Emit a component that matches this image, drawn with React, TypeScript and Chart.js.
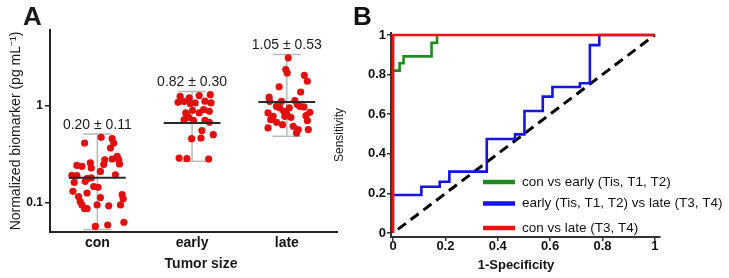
import React, { useEffect, useRef } from "react";
import { Chart, registerables } from "chart.js";

Chart.register(...registerables);

const FONT = "'Liberation Sans', Arial, Helvetica, sans-serif";

// ---------- Panel A data ----------
const categories = ["con", "early", "late"];

const conValues = [0.471, 0.412, 0.457, 0.412, 0.366, 0.3, 0.277, 0.282, 0.277, 0.251, 0.243, 0.237, 0.257, 0.228, 0.247, 0.191, 0.19, 0.177, 0.18, 0.21, 0.194, 0.162, 0.166, 0.147, 0.144, 0.131, 0.126, 0.113, 0.121, 0.11, 0.116, 0.103, 0.095, 0.087, 0.087, 0.095, 0.093, 0.095, 0.057, 0.059, 0.063];
const conJitter = [0.04, -0.135, 0.156, 0.173, 0.138, 0.209, 0.226, 0.156, 0.078, 0.234, -0.216, -0.163, -0.074, -0.064, 0.067, -0.269, -0.216, -0.109, -0.064, 0.032, 0.191, -0.244, -0.128, -0.039, 0.007, -0.258, -0.109, 0.032, 0.262, 0.273, -0.199, -0.181, -0.163, -0.135, -0.109, -0.003, 0.12, 0.244, -0.021, 0.109, 0.28];

const earlyValues = [1.247, 1.268, 1.297, 1.081, 1.1, 1.049, 1.066, 1.066, 0.841, 0.895, 0.909, 0.874, 0.808, 0.841, 0.717, 0.705, 0.757, 0.705, 0.673, 0.553, 0.457, 0.464, 0.502, 0.289, 0.284, 0.282, 1.2, 1.11];
const earlyJitter = [-0.126, 0.075, 0.192, -0.148, -0.084, -0.02, 0.033, 0.2, -0.066, 0.005, 0.122, 0.182, -0.055, 0.075, -0.084, 0.016, -0.037, 0.136, 0.182, 0.104, -0.005, 0.094, 0.224, -0.137, -0.055, 0.175, -0.03, 0.136];

const lateValues = [3.1, 2.35, 2.17, 2.05, 1.78, 1.56, 1.38, 1.22, 1.107, 1.127, 1.107, 1.024, 0.984, 0.97, 0.984, 0.946, 0.946, 0.841, 0.874, 0.827, 0.853, 0.776, 0.776, 0.757, 0.788, 0.717, 0.673, 0.637, 0.7, 0.589, 0.612, 0.566, 0.566, 0.523];
const lateJitter = [0.015, -0.011, 0.004, 0.185, 0.217, -0.081, 0.146, -0.187, -0.056, 0.085, -0.181, 0.111, 0.138, 0.181, -0.109, -0.074, 0.026, -0.198, -0.032, -0.003, 0.244, -0.145, -0.021, 0.043, 0.202, -0.17, -0.109, -0.046, 0.217, -0.198, 0.068, 0.121, 0.227, 0.103];

const groupMeans = [0.2, 0.82, 1.05];
const groupSDs = [0.11, 0.3, 0.53];
const groupMedians = [0.181, 0.663, 1.09];
const groupMins = [0.053, 0.267, 0.483];
const groupMaxs = [0.51, 1.4, 3.36];
const yTicksA = [0.1, 1];

// ---------- Panel B data ----------
const rocTicks = [0, 0.2, 0.4, 0.6, 0.8, 1];
const rocTickLabels = ["0", "0.2", "0.4", "0.6", "0.8", "1"];

const greenFPR = [0, 0.025, 0.025, 0.04, 0.04, 0.147, 0.147, 0.168, 0.168];
const greenTPR = [0.82, 0.82, 0.857, 0.857, 0.892, 0.892, 0.96, 0.96, 1];

const blueFPR = [0, 0.108, 0.108, 0.178, 0.178, 0.215, 0.215, 0.358, 0.358, 0.466, 0.466, 0.502, 0.502, 0.572, 0.572, 0.609, 0.609, 0.714, 0.714, 0.752, 0.752, 0.788, 0.788, 1];
const blueTPR = [0.192, 0.192, 0.234, 0.234, 0.259, 0.259, 0.31, 0.31, 0.475, 0.475, 0.498, 0.498, 0.616, 0.616, 0.689, 0.689, 0.737, 0.737, 0.756, 0.756, 0.949, 0.949, 1, 1];

const redFPR = [0, 0, 1];
const redTPR = [0, 1, 1];

const chanceFPR = [0, 1];
const chanceTPR = [0, 1];

const rocLabels = ["con vs early (Tis, T1, T2)", "early (Tis, T1, T2) vs late (T3, T4)", "con vs late (T3, T4)"];
const rocColors = ["#1f8a1f", "#1414e6", "#ee1111"];

const pts = (xs: number[], ys: number[]) => xs.map((x, i) => ({ x, y: ys[i] }));

export default function App() {
  const aRef = useRef<HTMLCanvasElement | null>(null);
  const bRef = useRef<HTMLCanvasElement | null>(null);

  useEffect(() => {
    Chart.defaults.font.family = FONT;
    Chart.defaults.color = "#111";

    // ---------------- Panel A ----------------
    const groupValues = [conValues, earlyValues, lateValues];
    const groupJitter = [conJitter, earlyJitter, lateJitter];

    const medianSets = categories.map((_, i) => ({
      data: [{ x: i - 0.3, y: groupMedians[i] }, { x: i + 0.3, y: groupMedians[i] }],
      showLine: true,
      borderColor: "#2a2a2a",
      borderWidth: 2,
      pointRadius: 0,
    }));
    const pointSets = groupValues.map((vals, i) => ({
      data: vals.map((v, k) => ({ x: i + groupJitter[i][k], y: v })),
      showLine: false,
      pointRadius: 3.6,
      pointBackgroundColor: "#e01010",
      pointBorderWidth: 0,
      backgroundColor: "#e01010",
    }));
    const whiskerSets = categories.flatMap((_, i) => [
      { data: [{ x: i, y: groupMins[i] }, { x: i, y: groupMaxs[i] }] },
      { data: [{ x: i - 0.15, y: groupMaxs[i] }, { x: i + 0.15, y: groupMaxs[i] }] },
      { data: [{ x: i - 0.15, y: groupMins[i] }, { x: i + 0.15, y: groupMins[i] }] },
    ].map((d) => ({ ...d, showLine: true, borderColor: "rgb(185,185,185)", borderWidth: 1.5, pointRadius: 0 })));

    const annotA = {
      id: "annotA",
      afterDraw(chart: any) {
        const { ctx, scales } = chart;
        const x = scales.x, y = scales.y;
        ctx.save();
        ctx.fillStyle = "#1a1a1a";
        ctx.font = `14px ${FONT}`;
        ctx.textAlign = "center";
        ctx.textBaseline = "alphabetic";
        categories.forEach((_, i) => {
          ctx.fillText(
            `${groupMeans[i].toFixed(2)} ± ${groupSDs[i].toFixed(2)}`,
            x.getPixelForValue(i),
            y.getPixelForValue(groupMaxs[i]) - 5
          );
        });
        ctx.font = `bold 14px ${FONT}`;
        ctx.textBaseline = "middle";
        ctx.fillText("Tumor size", 201, 264);
        ctx.font = `bold 26px ${FONT}`;
        ctx.textAlign = "left";
        ctx.textBaseline = "alphabetic";
        ctx.fillText("A", 23, 25);
        ctx.restore();
      },
    };

    const chartA = new Chart(aRef.current as HTMLCanvasElement, {
      type: "scatter",
      data: { datasets: [...medianSets, ...pointSets, ...whiskerSets] as any },
      options: {
        animation: false,
        responsive: false,
        events: [],
        layout: { padding: { top: 30, right: 8, left: 0, bottom: 0 } },
        plugins: { legend: { display: false }, tooltip: { enabled: false } },
        scales: {
          x: {
            type: "linear",
            min: -0.5,
            max: 2.53,
            afterBuildTicks: (s: any) => { s.ticks = categories.map((_, i) => ({ value: i })); },
            afterFit: (s: any) => { s.height = 46; },
            grid: { display: false, drawTicks: false },
            border: { display: true, color: "#222", width: 2 },
            ticks: {
              callback: (v: any) => categories[Math.round(Number(v))] ?? "",
              font: { size: 14, weight: "bold", lineHeight: 1 },
              color: "#111",
              padding: 4,
              maxRotation: 0,
            },
          },
          y: {
            type: "logarithmic",
            min: 0.05,
            max: 6,
            afterBuildTicks: (s: any) => { s.ticks = yTicksA.map((v) => ({ value: v })); },
            afterFit: (s: any) => { s.width = 50; },
            grid: { display: true, drawOnChartArea: false, drawTicks: true, tickLength: 5, color: "#222", lineWidth: 1.5 },
            border: { display: true, color: "#222", width: 2 },
            ticks: {
              callback: (v: any) => String(v),
              font: { size: 12, weight: "bold" },
              color: "#111",
              padding: 2,
            },
            title: {
              display: true,
              text: "Normalized biomarker (pg mL⁻¹)",
              font: { size: 14 },
              color: "#1a1a1a",
              padding: { top: 7.6, bottom: 0 },
            },
          },
        },
      },
      plugins: [annotA],
    } as any);

    // ---------------- Panel B ----------------
    const rocSets = [
      { data: pts(redFPR, redTPR), borderColor: rocColors[2], borderWidth: 2.6 },
      { data: pts(greenFPR, greenTPR), borderColor: rocColors[0], borderWidth: 2.6 },
      { data: pts(blueFPR, blueTPR), borderColor: rocColors[1], borderWidth: 2.6 },
      { data: pts(chanceFPR, chanceTPR), borderColor: "#000", borderWidth: 3, borderDash: [10, 6], borderDashOffset: 10 },
    ].map((d) => ({ ...d, showLine: true, pointRadius: 0, borderJoinStyle: "miter", borderCapStyle: "butt", tension: 0 }));

    const annotB = {
      id: "annotB",
      afterDraw(chart: any) {
        const { ctx } = chart;
        ctx.save();
        const rows = [182, 203.5, 228];
        const order = [0, 1, 2];
        order.forEach((k, r) => {
          ctx.strokeStyle = rocColors[k];
          ctx.lineWidth = 4.5;
          ctx.beginPath();
          ctx.moveTo(163, rows[r]);
          ctx.lineTo(195, rows[r]);
          ctx.stroke();
          ctx.fillStyle = "#111";
          ctx.font = `13.5px ${FONT}`;
          ctx.textAlign = "left";
          ctx.textBaseline = "middle";
          ctx.fillText(rocLabels[k], 202, rows[r]);
        });
        ctx.fillStyle = "#111";
        ctx.font = `bold 13px ${FONT}`;
        ctx.textAlign = "center";
        ctx.textBaseline = "middle";
        ctx.fillText("1-Specificity", 196, 265);
        ctx.font = `bold 26px ${FONT}`;
        ctx.textAlign = "left";
        ctx.textBaseline = "alphabetic";
        ctx.fillText("B", 33, 25);
        ctx.restore();
      },
    };

    const rocAxis = (fit: (s: any) => void, extra: any) => ({
      type: "linear",
      afterBuildTicks: (s: any) => { s.ticks = rocTicks.map((v) => ({ value: v })); },
      afterFit: fit,
      grid: { display: true, drawOnChartArea: false, drawTicks: true, tickLength: 4, color: "#333", lineWidth: 1.5 },
      border: { display: true, color: "#333", width: 2 },
      ...extra,
    });

    const chartB = new Chart(bRef.current as HTMLCanvasElement, {
      type: "scatter",
      data: { datasets: rocSets as any },
      options: {
        animation: false,
        responsive: false,
        events: [],
        layout: { padding: { top: 33, right: 69, left: 0, bottom: 0 } },
        plugins: { legend: { display: false }, tooltip: { enabled: false } },
        scales: {
          x: rocAxis((s: any) => { s.height = 41; }, {
            min: -0.008,
            max: 1.02,
            ticks: {
              callback: (v: any) => rocTickLabels[rocTicks.indexOf(Number(v))] ?? "",
              font: { size: 13, weight: "bold", lineHeight: 1 },
              color: "#111",
              padding: -1,
              maxRotation: 0,
            },
          }),
          y: rocAxis((s: any) => { s.width = 71; }, {
            min: -0.02,
            max: 1.01,
            ticks: {
              callback: (v: any) => rocTickLabels[rocTicks.indexOf(Number(v))] ?? "",
              font: { size: 13, weight: "bold" },
              color: "#111",
              padding: 1,
            },
            title: {
              display: true,
              text: "Sensitivity",
              font: { size: 12 },
              color: "#1a1a1a",
              padding: { top: 12.8, bottom: 0 },
            },
          }),
        },
      },
      plugins: [annotB],
    } as any);

    return () => {
      chartA.destroy();
      chartB.destroy();
    };
  }, []);

  return (
    <div style={{ position: "fixed", left: 0, top: 0, width: 729, height: 278, background: "#fff", overflow: "hidden" }}>
      <canvas ref={aRef} width={345} height={278} style={{ position: "absolute", left: 0, top: 0 }} />
      <canvas ref={bRef} width={409} height={278} style={{ position: "absolute", left: 320, top: 0 }} />
    </div>
  );
}
